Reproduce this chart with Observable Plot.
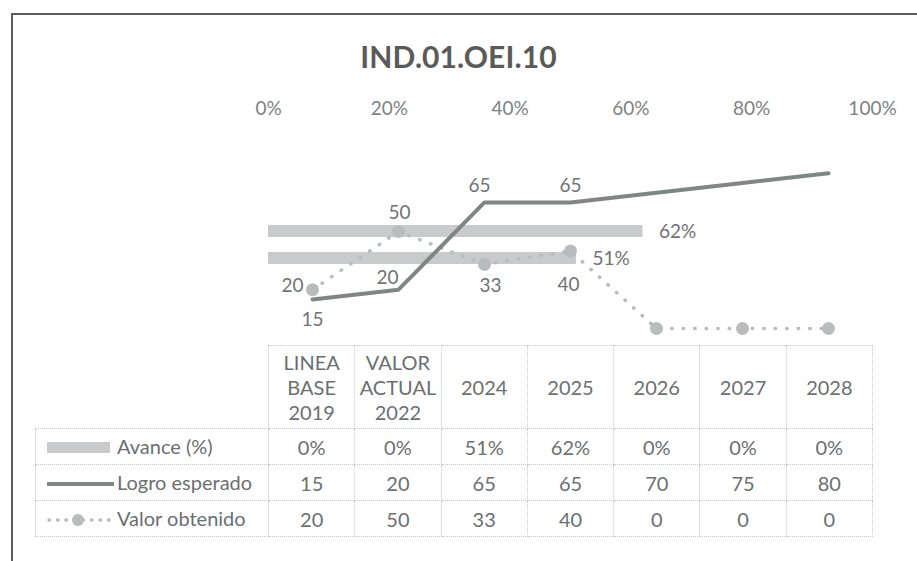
<!DOCTYPE html>
<html>
<head>
<meta charset="utf-8">
<script src="https://cdn.jsdelivr.net/npm/d3@7"></script>
<script src="https://cdn.jsdelivr.net/npm/@observablehq/plot@0.6"></script>
<style>
  html, body { margin: 0; padding: 0; background: #fff; }
  #root { position: relative; width: 917px; height: 561px; overflow: hidden; background: #fff; font-family: Lato, sans-serif; }
  #frameTop { position: absolute; left: 11px; top: 13px; width: 906px; height: 0; border-top: 2px solid #5c5c5c; }
  #frameLeft { position: absolute; left: 11px; top: 13px; width: 0; height: 548px; border-left: 2px solid #5c5c5c; }
  #title { position: absolute; left: 0; width: 917px; top: 38px; text-align: center; font-weight: 700; font-size: 30px; color: #5a5a5a; letter-spacing: 0.1px; }
  .layer { position: absolute; left: 0; top: 0; }
  #tbl { position: absolute; left: 35px; top: 345px; width: 837px; border-collapse: collapse; table-layout: fixed; font-size: 20px; color: #6b6f70; }
  #tbl td { border: 1px dotted #c6caca; text-align: center; padding: 0; white-space: nowrap; }
  #tbl tr.hdr td { height: 82px; line-height: 25px; }
  #tbl tr.hdr td.blank { border-top: none; border-left: none; }
  #tbl tr.row td { height: 35px; }
  #tbl td.leg { text-align: left; padding-left: 11px; }
  #tbl td.leg svg { vertical-align: middle; margin-right: 3px; position: relative; top: -1px; }
</style>
</head>
<body>
<div id="root">
  <div id="frameTop"></div>
  <div id="frameLeft"></div>
  <div id="title"></div>
  <div id="bars" class="layer"></div>
  <div id="lines" class="layer"></div>
  <table id="tbl"></table>
</div>
<script>
// ---------- data ----------
const chartTitle = "IND.01.OEI.10";
const categories = ["LINEA BASE 2019", "VALOR ACTUAL 2022", "2024", "2025", "2026", "2027", "2028"];
const avance = [0, 0, 0.51, 0.62, 0, 0, 0];
const logroEsperado = [15, 20, 65, 65, 70, 75, 80];
const valorObtenido = [20, 50, 33, 40, 0, 0, 0];
const pctTicks = [0, 0.2, 0.4, 0.6, 0.8, 1];
const seriesNames = ["Avance (%)", "Logro esperado", "Valor obtenido"];

// ---------- styling ----------
const C = {
  bar: "#c8cacb",
  logro: "#7e8784",
  valor: "#b8bcbc",
  axis: "#7d8282",
  label: "#6f7373"
};
const pct = d3.format(".0%");

document.getElementById("title").textContent = chartTitle;

const rows = categories.map((c, i) => ({ cat: c, i, avance: avance[i], logro: logroEsperado[i], valor: valorObtenido[i] }));

const frame = {
  width: 917, height: 561,
  marginLeft: 268, marginRight: 45, marginTop: 134, marginBottom: 233,
  style: { background: "transparent", fontFamily: "Lato, sans-serif", fontSize: "19px", overflow: "visible" }
};

// ---------- bars (secondary axis, top, 0-100%) ----------
const barsPlot = Plot.plot({
  ...frame,
  x: { domain: [0, 1], label: null },
  y: { type: "band", domain: categories.slice().reverse(), paddingInner: 0.56, paddingOuter: 0.28, axis: null },
  marks: [
    Plot.axisX(pctTicks, { anchor: "top", label: null, tickFormat: pct, tickSize: 0, tickPadding: 20, fill: C.axis, fontSize: 19 }),
    Plot.barX(rows, { x: "avance", y: "cat", fill: C.bar }),
    Plot.text(rows.filter(d => d.avance > 0), { x: "avance", y: "cat", text: d => pct(d.avance), textAnchor: "start", dx: 16, fill: C.label, fontSize: 19 })
  ]
});
document.getElementById("bars").appendChild(barsPlot);

// ---------- lines (primary axis, 0-100) ----------
const logroLabelOffsets = { 0: [0, 21], 1: [-11, -12], 2: [-5, -16], 3: [0, -16] };
const valorLabelOffsets = { 0: [-9, -4, "end"], 1: [1, -19], 2: [6, 21], 3: [-2, 34] };

const labelMarks = [];
for (const [k, [dx, dy]] of Object.entries(logroLabelOffsets)) {
  labelMarks.push(Plot.text([rows[+k]], { x: "cat", y: "logro", text: d => String(d.logro), dx, dy, fill: C.label, fontSize: 19 }));
}
for (const [k, [dx, dy, anchor]] of Object.entries(valorLabelOffsets)) {
  labelMarks.push(Plot.text([rows[+k]], { x: "cat", y: "valor", text: d => String(d.valor), dx, dy, textAnchor: anchor || "middle", fill: C.label, fontSize: 19 }));
}

const linesPlot = Plot.plot({
  ...frame,
  x: { type: "point", domain: categories, padding: 0.5, axis: null },
  y: { domain: [0, 100], axis: null },
  marks: [
    Plot.line(rows, { x: "cat", y: "valor", stroke: C.valor, strokeWidth: 3.5, strokeDasharray: "0.5 11", strokeLinecap: "round" }),
    Plot.dot(rows, { x: "cat", y: "valor", r: 6.5, fill: C.valor, stroke: "none" }),
    Plot.line(rows, { x: "cat", y: "logro", stroke: C.logro, strokeWidth: 4, strokeLinejoin: "round" }),
    ...labelMarks
  ]
});
document.getElementById("lines").appendChild(linesPlot);

// ---------- data table ----------
const swatches = [
  `<svg width="67" height="20"><rect x="0" y="4" width="63" height="11" fill="${C.bar}"/></svg>`,
  `<svg width="67" height="20"><line x1="0" x2="66" y1="10" y2="10" stroke="${C.logro}" stroke-width="4" stroke-linecap="round"/></svg>`,
  `<svg width="67" height="20"><line x1="2" x2="66" y1="10" y2="10" stroke="${C.valor}" stroke-width="3.5" stroke-dasharray="0.5 8" stroke-linecap="round"/><circle cx="31" cy="10" r="6" fill="${C.valor}"/></svg>`
];
const tableValues = [avance.map(pct), logroEsperado.map(String), valorObtenido.map(String)];

let html = `<colgroup><col style="width:233px">${categories.map(() => `<col style="width:${604 / categories.length}px">`).join("")}</colgroup>`;
html += `<tr class="hdr"><td class="blank"></td>${categories.map(c => `<td>${c.split(" ").join("<br>")}</td>`).join("")}</tr>`;
seriesNames.forEach((name, r) => {
  html += `<tr class="row"><td class="leg">${swatches[r]}${name}</td>${tableValues[r].map(v => `<td>${v}</td>`).join("")}</tr>`;
});
document.getElementById("tbl").innerHTML = html;
</script>
</body>
</html>
